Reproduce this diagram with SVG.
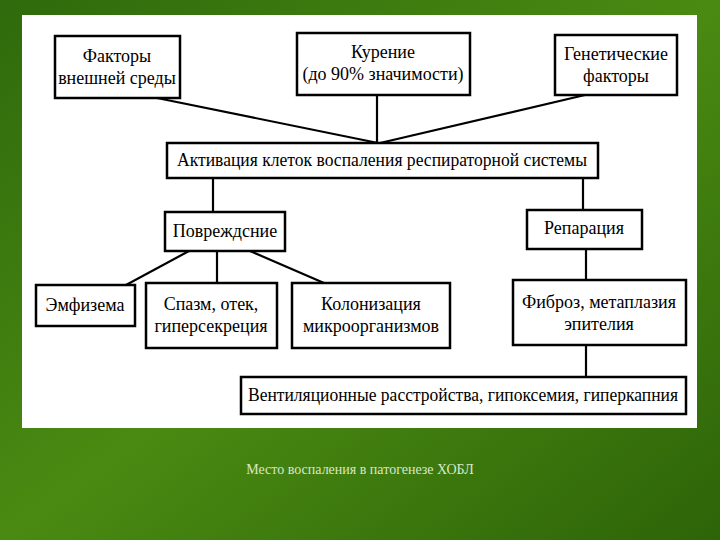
<svg xmlns="http://www.w3.org/2000/svg" width="720" height="540" viewBox="0 0 720 540">
<defs>
<linearGradient id="bg" x1="0" y1="0" x2="1" y2="1">
<stop offset="0" stop-color="#2f6a0c"/><stop offset="0.5" stop-color="#4a8a12"/><stop offset="1" stop-color="#2d6408"/>
</linearGradient>
<style>
.b{fill:#fff;stroke:#000;stroke-width:2.5}
.t{font-family:'Liberation Serif','Times New Roman','DejaVu Serif',serif;font-size:18px;fill:#000;text-anchor:middle}
.c{stroke:#000;stroke-width:2.2;fill:none}
.cap{font-family:'Liberation Serif','Times New Roman','DejaVu Serif',serif;font-size:14px;fill:#d8e8c8;text-anchor:middle}
</style>
</defs>
<rect width="720" height="540" fill="url(#bg)"/>
<rect x="22" y="15" width="675" height="413" fill="#fff"/>
<g id="connectors">
<line class="c" x1="157" y1="98" x2="378" y2="143"/>
<line class="c" x1="377" y1="95" x2="377" y2="143"/>
<line class="c" x1="585" y1="95" x2="380" y2="143"/>
<line class="c" x1="213" y1="178" x2="213" y2="212"/>
<line class="c" x1="583" y1="178" x2="583" y2="210"/>
<line class="c" x1="189" y1="251" x2="126" y2="285"/>
<line class="c" x1="217" y1="251" x2="217" y2="283"/>
<line class="c" x1="250" y1="251" x2="324" y2="283"/>
<line class="c" x1="586" y1="249" x2="586" y2="280"/>
<line class="c" x1="586" y1="345" x2="586" y2="377"/>
</g>
<g id="n1"><rect class="b" x="55" y="36" width="125" height="62"/><text class="t" x="117" y="62">Факторы</text><text class="t" x="117" y="84">внешней среды</text></g>
<g id="n2"><rect class="b" x="297" y="33" width="173" height="62"/><text class="t" x="383" y="58">Курение</text><text class="t" x="383" y="80">(до 90% значимости)</text></g>
<g id="n3"><rect class="b" x="555" y="35" width="122" height="60"/><text class="t" x="616" y="60">Генетические</text><text class="t" x="616" y="82">факторы</text></g>
<g id="n4"><rect class="b" x="167" y="143" width="431" height="35"/><text class="t" x="382" y="166" textLength="410" lengthAdjust="spacingAndGlyphs">Активация клеток воспаления респираторной системы</text></g>
<g id="n5"><rect class="b" x="165" y="212" width="120" height="39"/><text class="t" x="225" y="237">Повреждсние</text></g>
<g id="n6"><rect class="b" x="527" y="210" width="115" height="39"/><text class="t" x="584" y="234">Репарация</text></g>
<g id="n7"><rect class="b" x="36" y="285" width="99" height="41"/><text class="t" x="85" y="311">Эмфизема</text></g>
<g id="n8"><rect class="b" x="146" y="283" width="131" height="65"/><text class="t" x="211" y="310">Спазм, отек,</text><text class="t" x="211" y="332">гиперсекреция</text></g>
<g id="n9"><rect class="b" x="292" y="283" width="158" height="65"/><text class="t" x="371" y="310">Колонизация</text><text class="t" x="371" y="332">микроорганизмов</text></g>
<g id="n10"><rect class="b" x="513" y="280" width="173" height="65"/><text class="t" x="599" y="308">Фиброз, метаплазия</text><text class="t" x="599" y="330">эпителия</text></g>
<g id="n11"><rect class="b" x="241" y="377" width="445" height="37"/><text class="t" x="463" y="401" textLength="430" lengthAdjust="spacingAndGlyphs">Вентиляционные расстройства, гипоксемия, гиперкапния</text></g>
<text class="cap" x="360" y="474">Место воспаления в патогенезе ХОБЛ</text>
</svg>
